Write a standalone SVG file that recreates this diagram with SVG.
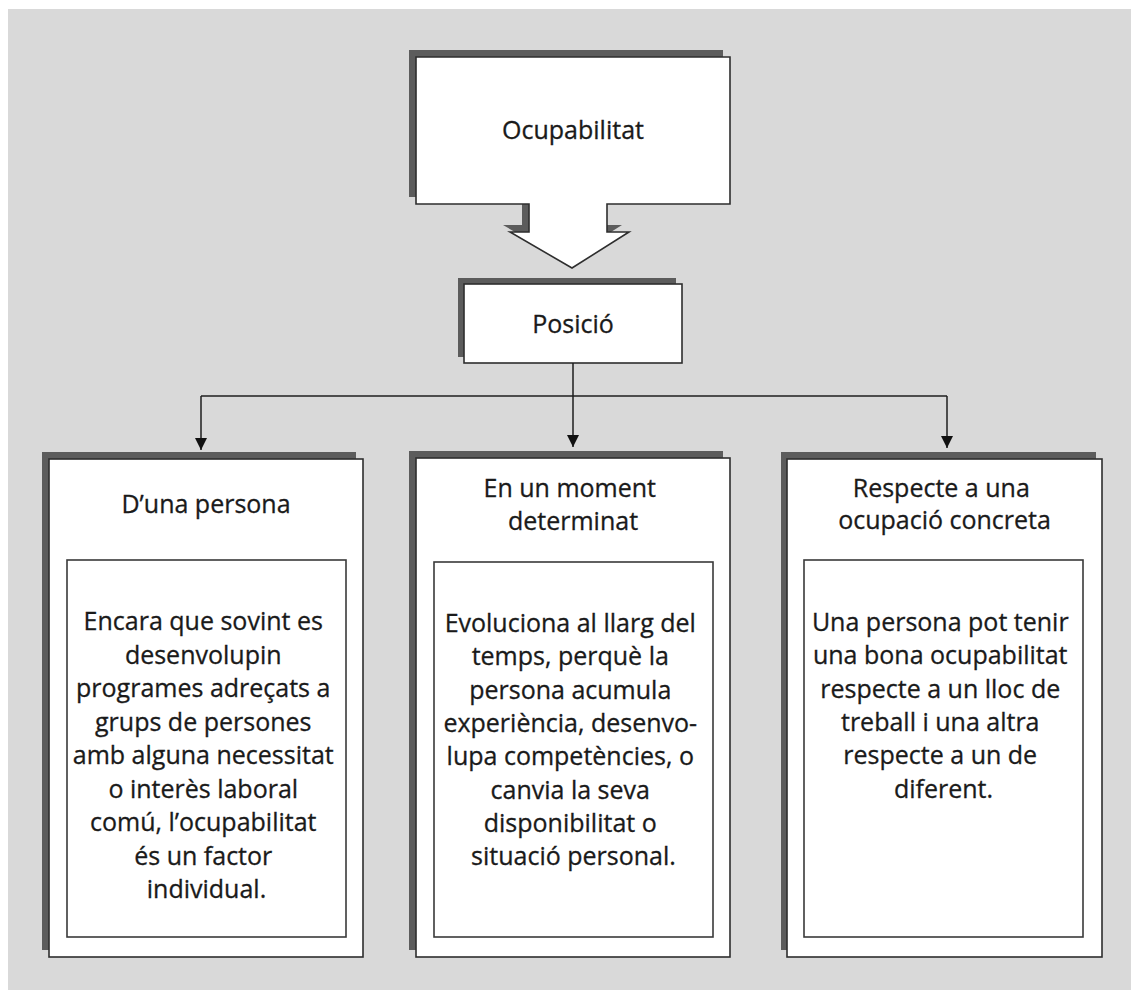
<svg xmlns="http://www.w3.org/2000/svg" width="1131" height="990" viewBox="0 0 1131 990">
  <style>
    .bg { fill: #d9d9d9; }
    .shadow { fill: #5c5c5c; }
    .box { fill: #ffffff; stroke: #2e2e2e; stroke-width: 1.6; }
    .inner { fill: #ffffff; stroke: #3a3a3a; stroke-width: 1.6; }
    .t { font-family: "Open Sans", "Noto Sans", "Liberation Sans", sans-serif; font-size: 25px; fill: #1a1a1a; stroke: #1a1a1a; stroke-width: 0.3; text-anchor: middle; }
    .conn { fill: none; stroke: #1e1e1e; stroke-width: 1.5; }
  </style>
  <defs>
    <marker id="arr" viewBox="0 0 12 12" refX="12" refY="6" markerWidth="12" markerHeight="12" markerUnits="userSpaceOnUse" orient="auto">
      <path d="M0,0 L12,6 L0,12 Z" fill="#111"/>
    </marker>
  </defs>
  <rect class="bg" x="8" y="9" width="1123" height="981"/>

  <g id="ocupabilitat">
    <polygon class="shadow" points="409,50 723,50 723,197 600,197 600,225 622,225 565,261 503,225 522,225 522,197 409,197"/>
    <polygon class="box" points="416,57 730,57 730,204 607,204 607,232 629,232 572,268 510,232 529,232 529,204 416,204"/>
    <text class="t" x="573" y="139">Ocupabilitat</text>
  </g>

  <g id="posicio">
    <rect class="shadow" x="458" y="278" width="218" height="79"/>
    <rect class="box" x="464" y="284" width="218" height="79"/>
    <text class="t" x="573" y="333">Posició</text>
  </g>

  <g id="connectors">
    <path class="conn" d="M573,363 V396"/>
    <path class="conn" d="M201,396 H947"/>
    <path class="conn" d="M201,396 V450" marker-end="url(#arr)"/>
    <path class="conn" d="M573,396 V447" marker-end="url(#arr)"/>
    <path class="conn" d="M947,396 V448" marker-end="url(#arr)"/>
  </g>

  <g id="persona">
    <rect class="shadow" x="42" y="452" width="314" height="498"/>
    <rect class="box" x="49" y="459" width="314" height="498"/>
    <text class="t" x="206" y="513">D’una persona</text>
    <rect class="inner" x="67" y="560" width="279" height="377"/>
    <text class="t" x="206.5">
      <tspan x="206.5" y="630">Encara que sovint es</tspan>
      <tspan x="206.5" y="663.5">desenvolupin</tspan>
      <tspan x="206.5" y="697">programes adreçats a</tspan>
      <tspan x="206.5" y="730.5">grups de persones</tspan>
      <tspan x="206.5" y="764">amb alguna necessitat</tspan>
      <tspan x="206.5" y="797.5">o interès laboral</tspan>
      <tspan x="206.5" y="831">comú, l’ocupabilitat</tspan>
      <tspan x="206.5" y="864.5">és un factor</tspan>
      <tspan x="206.5" y="898">individual.</tspan>
    </text>
  </g>

  <g id="moment">
    <rect class="shadow" x="409" y="451" width="314" height="499"/>
    <rect class="box" x="416" y="458" width="314" height="499"/>
    <text class="t" x="573">
      <tspan x="573" y="497">En un moment</tspan>
      <tspan x="573" y="530">determinat</tspan>
    </text>
    <rect class="inner" x="434" y="562" width="279" height="375"/>
    <text class="t" x="573.5">
      <tspan x="573.5" y="632">Evoluciona al llarg del</tspan>
      <tspan x="573.5" y="665.3">temps, perquè la</tspan>
      <tspan x="573.5" y="698.6">persona acumula</tspan>
      <tspan x="573.5" y="731.9">experiència, desenvo-</tspan>
      <tspan x="573.5" y="765.2">lupa competències, o</tspan>
      <tspan x="573.5" y="798.5">canvia la seva</tspan>
      <tspan x="573.5" y="831.8">disponibilitat o</tspan>
      <tspan x="573.5" y="865.1">situació personal.</tspan>
    </text>
  </g>

  <g id="ocupacio">
    <rect class="shadow" x="781" y="452" width="315" height="498"/>
    <rect class="box" x="787" y="459" width="315" height="498"/>
    <text class="t" x="944.5">
      <tspan x="944.5" y="497">Respecte a una</tspan>
      <tspan x="944.5" y="529">ocupació concreta</tspan>
    </text>
    <rect class="inner" x="804" y="560" width="279" height="377"/>
    <text class="t" x="943.5">
      <tspan x="943.5" y="631">Una persona pot tenir</tspan>
      <tspan x="943.5" y="664.3">una bona ocupabilitat</tspan>
      <tspan x="943.5" y="697.6">respecte a un lloc de</tspan>
      <tspan x="943.5" y="730.9">treball i una altra</tspan>
      <tspan x="943.5" y="764.2">respecte a un de</tspan>
      <tspan x="943.5" y="797.5">diferent.</tspan>
    </text>
  </g>
</svg>
